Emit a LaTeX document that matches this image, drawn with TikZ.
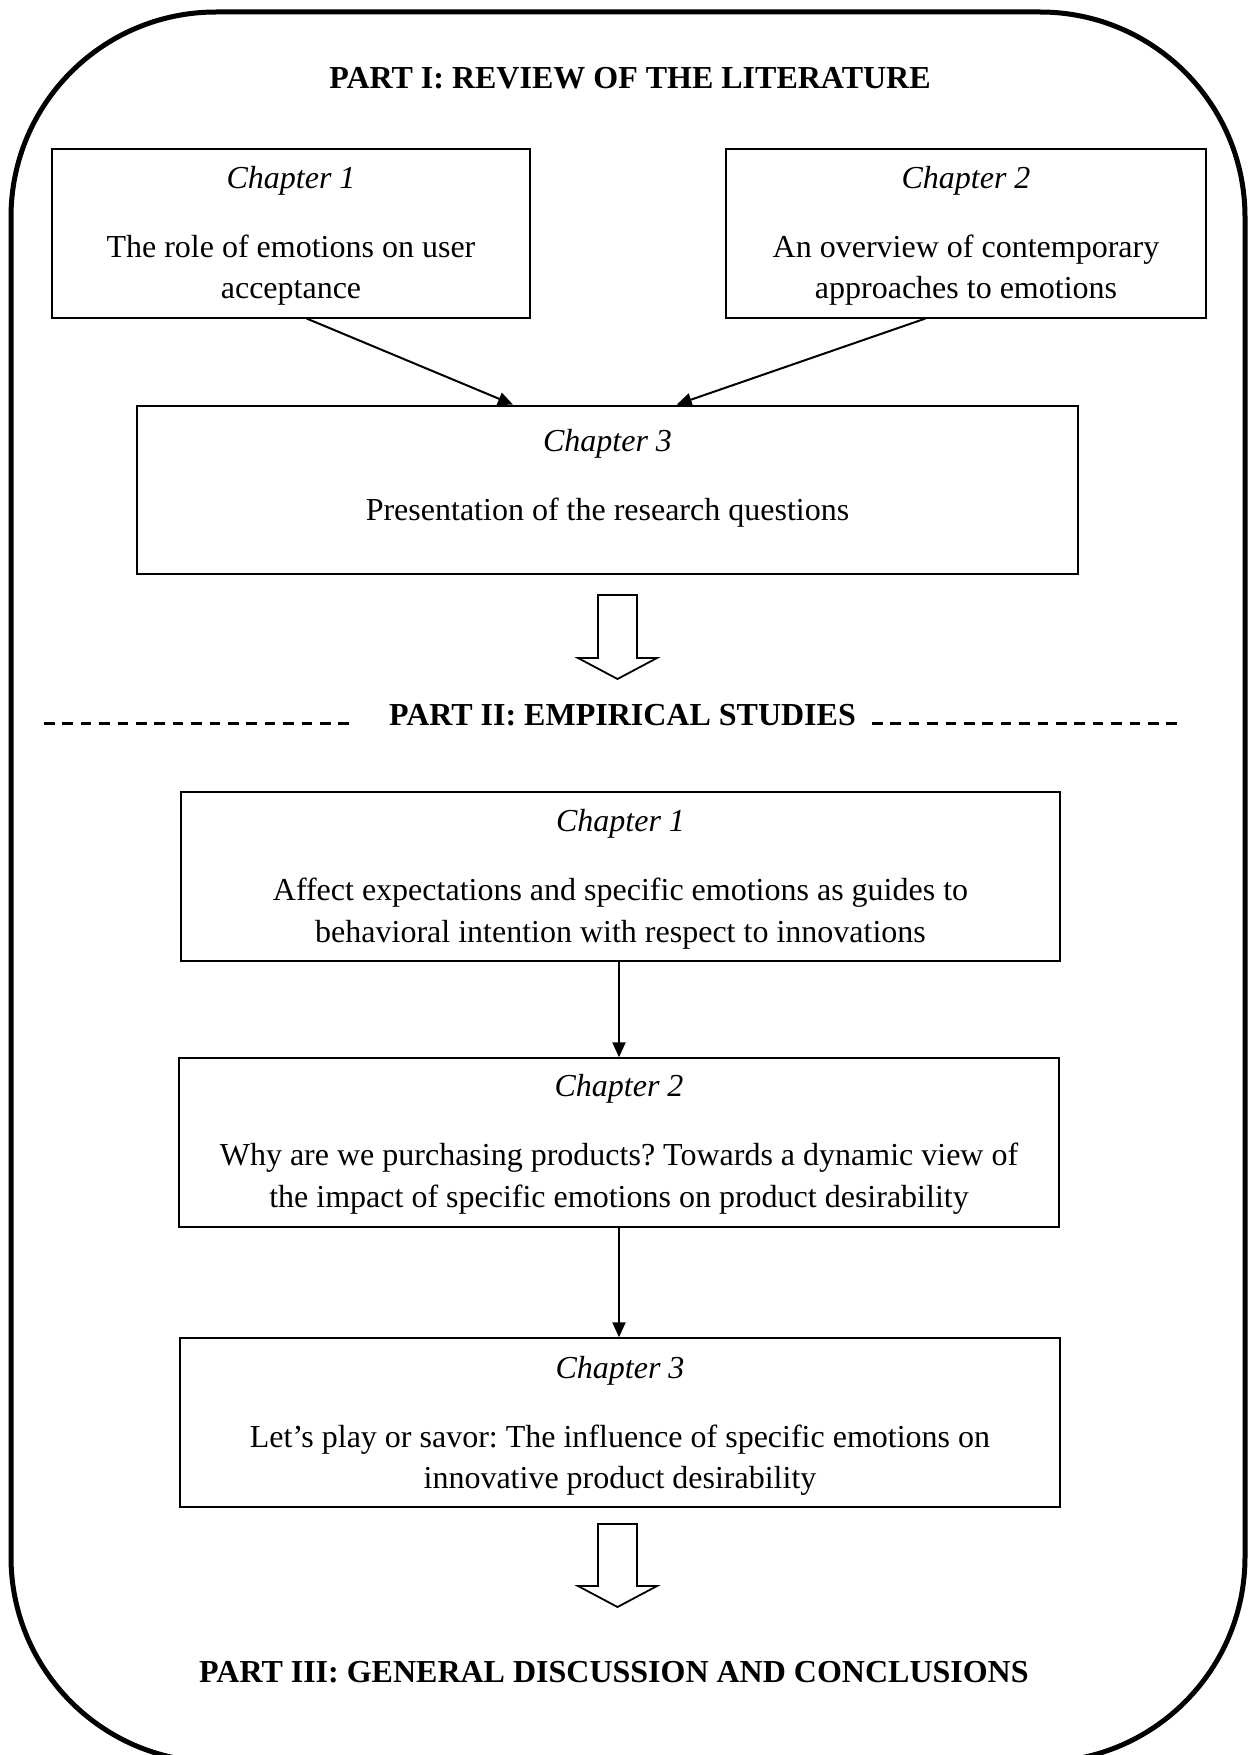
\documentclass[tikz,border=0pt]{standalone}
\usepackage{fontspec}
\setmainfont{Liberation Serif}
\usetikzlibrary{arrows.meta,calc}
\frenchspacing
\tikzset{
  chbox/.style={draw, line width=2pt, inner sep=0pt, rectangle},
  chtext/.style={anchor=base, align=flush center, inner sep=0pt, text width=#1,
    font=\fontsize{32}{41.6}\selectfont\frenchspacing},
  parttitle/.style={anchor=base, inner sep=0pt, font=\fontsize{32}{40}\selectfont\bfseries},
  link/.style={line width=2pt, -{Triangle[length=15pt,width=13pt]}},
  hollow/.style={draw, line width=1.8pt, fill=white, line join=miter},
  sepline/.style={line width=2.5pt, dash pattern=on 10.5pt off 7.9pt},
  frame/.style={line width=5pt, rounded corners=205pt}
}
\newcommand{\chgap}{\\[27.3pt]}
\begin{document}
\begin{tikzpicture}[x=1pt,y=-1pt]
\useasboundingbox (0,0) rectangle (1252,1755);
\clip (0,0) rectangle (1252,1755);
\fill[white] (0,0) rectangle (1252,1755);
\draw[frame] (11,12) rectangle (1245,1762);

% Part I
\node[parttitle] (t1) at (630,88.8) {PART I: REVIEW OF THE LITERATURE};

\node[chbox, minimum width=478pt, minimum height=168.5pt] (p1c1) at (291,233.3) {};
\node[chtext=470pt] (p1c1t) at (291,188.3) {\textit{Chapter 1}\chgap The role of emotions on user\\ acceptance};

\node[chbox, minimum width=480pt, minimum height=168.5pt] (p1c2) at (966,233.3) {};
\node[chtext=470pt] (p1c2t) at (966,188.3) {\textit{Chapter 2}\chgap An overview of contemporary\\ approaches to emotions};

\node[chbox, minimum width=941pt, minimum height=168.4pt] (p1c3) at (607.5,489.8) {};
\node[chtext=920pt] (p1c3t) at (607.5,451.6) {\textit{Chapter 3}\chgap Presentation of the research questions};

\draw[link] ([xshift=15.7pt]p1c1.south) -- ([xshift=-94.5pt]p1c3.north);
\draw[link] ([xshift=-40.6pt]p1c2.south) -- ([xshift=69.2pt]p1c3.north);

\draw[hollow] (598,595) -- (637,595) -- (637,658) -- (657,658) -- (617.5,679) -- (578,658) -- (598,658) -- cycle;

% Part II
\node[parttitle] (t2) at (622.5,725.7) {PART II: EMPIRICAL STUDIES};
\draw[sepline] (44,723.3) -- (351,723.3);
\draw[sepline] (872,723.3) -- (1180,723.3);

\node[chbox, minimum width=879pt, minimum height=169pt] (p2c1) at (620.5,876.5) {};
\node[chtext=860pt] (p2c1t) at (620.5,831.7) {\textit{Chapter 1}\chgap Affect expectations and specific emotions as guides to\\ behavioral intention with respect to innovations};

\node[chbox, minimum width=880pt, minimum height=168.4pt] (p2c2) at (619,1142.5) {};
\node[chtext=860pt] (p2c2t) at (619,1096.7) {\textit{Chapter 2}\chgap Why are we purchasing products? Towards a dynamic view of\\ the impact of specific emotions on product desirability};

\node[chbox, minimum width=880pt, minimum height=169pt] (p2c3) at (620,1422.8) {};
\node[chtext=860pt] (p2c3t) at (620,1378.3) {\textit{Chapter 3}\chgap Let’s play or savor: The influence of specific emotions on\\ innovative product desirability};

\draw[link] (p2c1.south -| p2c2.north) -- (p2c2.north);
\draw[link] (p2c2.south) -- (p2c2.south |- p2c3.north);

\draw[hollow] (598,1524) -- (637,1524) -- (637,1586) -- (657,1586) -- (617.5,1607) -- (578,1586) -- (598,1586) -- cycle;

% Part III
\node[parttitle] (t3) at (614,1682.7) {PART III: GENERAL DISCUSSION AND CONCLUSIONS};
\end{tikzpicture}
\end{document}
